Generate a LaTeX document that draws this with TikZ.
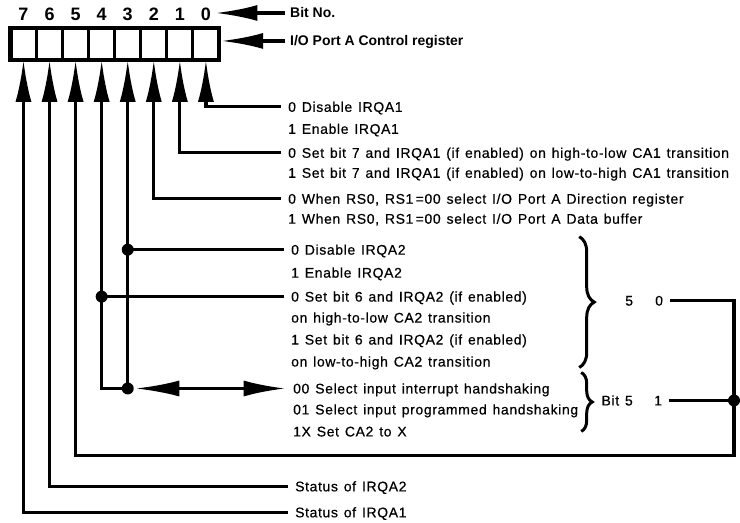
\documentclass[tikz,border=0pt]{standalone}
\usepackage{fontspec}
\setmainfont{Liberation Sans}
\newfontfamily\txtfont{Liberation Sans}[LetterSpace=4.5,WordSpace=1.3,FakeBold=0.5]
\usetikzlibrary{arrows.meta,decorations.pathreplacing,calc}
\begin{document}
\begin{tikzpicture}[x=1pt,y=-1pt,
  line width=3.2pt, line join=miter,
  arr/.style={-{Latex[length=42pt,width=16pt]}},
  darr/.style={{Latex[length=44pt,width=16pt]}-{Latex[length=42pt,width=16pt]}},
  cell/.style={draw, line width=3pt, minimum width=26.1pt, minimum height=32pt, inner sep=0pt, outer sep=0pt, fill=white},
  digit/.style={font=\bfseries\fontsize{18pt}{20pt}\selectfont, inner xsep=3pt, inner ysep=0pt, text height=13pt, text depth=0pt},
  txt/.style={anchor=west, inner xsep=6pt, inner ysep=0pt, text height=10pt, text depth=0pt, font=\txtfont\fontsize{14pt}{16pt}\selectfont},
  hdr/.style={anchor=west, inner xsep=4pt, inner ysep=0pt, text height=10pt, text depth=0pt, font=\bfseries\fontsize{14pt}{16pt}\selectfont},
  sm/.style={inner ysep=0pt, text height=10pt, text depth=0pt, font=\txtfont\fontsize{14pt}{16pt}\selectfont},
  dot/.style={circle, fill=black, inner sep=0pt, minimum size=12pt},
  brace/.style={decorate, line width=3pt}
]
\fill[white] (0,0) rectangle (740,523);
% register
\foreach \b in {0,...,7} {
  \node[cell] (c\b) at ({23.5+26.1*(7-\b)},44) {};
  \node[digit] (n\b) at ({23.5+26.1*(7-\b)},14) {\b};
}
\node[draw, line width=4.5pt, minimum width=208.8pt, minimum height=32pt, inner sep=0pt] (reg) at (114.85,44) {};
% headers
\node[hdr] (bitno) at (285,13) {Bit No.};
\node[hdr] (ctrl) at (285,41) {I/O Port A Control register};
\draw[arr] (bitno.west) -- (bitno.west -| n0.east);
\draw[arr] (ctrl.west) -- (ctrl.west -| reg.east);
% rows
\node[txt] (r0a) at (281,107) {0 Disable IRQA1};
\node[txt] (r0b) at (281,129) {1 Enable IRQA1};
\node[txt] (r1a) at (281,153) {0 Set bit 7 and IRQA1 (if enabled) on high-to-low CA1 transition};
\node[txt] (r1b) at (281,173) {1 Set bit 7 and IRQA1 (if enabled) on low-to-high CA1 transition};
\node[txt] (r2a) at (281,199) {0 When RS0, RS1\thinspace=00 select I/O Port A Direction register};
\node[txt] (r2b) at (281,219) {1 When RS0, RS1\thinspace=00 select I/O Port A Data buffer};
\node[txt] (r3a) at (284,250) {0 Disable IRQA2};
\node[txt] (r3b) at (284,273) {1 Enable IRQA2};
\node[txt] (r4a) at (284,297) {0 Set bit 6 and IRQA2 (if enabled)};
\node[txt] (r4b) at (284,318) {on high-to-low CA2 transition};
\node[txt] (r4c) at (284,340) {1 Set bit 6 and IRQA2 (if enabled)};
\node[txt] (r4d) at (284,362) {on low-to-high CA2 transition};
\node[txt] (r5a) at (286,389) {00 Select input interrupt handshaking};
\node[txt] (r5b) at (286,410) {01 Select input programmed handshaking};
\node[txt] (r5c) at (286,432) {1X Set CA2 to X};
\node[txt] (s6) at (288,487) {Status of IRQA2};
\node[txt] (s7) at (288,513) {Status of IRQA1};
% right side labels
\node[sm] (t5a) at (630,301) {5};
\node[sm, inner xsep=5pt] (t0) at (660,301) {0};
\node[sm] (bit5) at (618,401) {Bit 5};
\node[sm, inner xsep=5pt] (t1) at (659,401) {1};
% braces
\draw[brace, decoration={brace, amplitude=15pt}] (580,237) -- (580,368);
\draw[brace, decoration={brace, amplitude=11pt}] (582,373) -- (582,432);
% bits 0-2
\draw[arr] (r0a.west) -| (c0.south);
\draw[arr] (r1a.west) -| (c1.south);
\draw[arr] (r2a.west) -| (c2.south);
% bits 3-4
\node[dot] (d3a) at (c3.south |- r3a.west) {};
\node[dot] (d4) at (c4.south |- r4a.west) {};
\node[dot] (d3b) at (c3.south |- r5a.west) {};
\draw (r3a.west) -- (d3a.center);
\draw (r4a.west) -- (d4.center);
\draw[arr] (d3b.center) -- (c3.south);
\draw[arr] (d3b.center) -- (d3b.center -| c4.south) -- (c4.south);
\draw[darr] (d3b) -- (r5a.west);
% bit 5
\coordinate (kR1) at (735,301);
\coordinate (kR2) at (735,456);
\draw[arr] (t0.east) -- (kR1) -- (kR2) -- (kR2 -| c5.south) -- (c5.south);
\node[dot] (dR) at (735,401) {};
\draw (t1.east) -- (dR.center);
% bits 6-7
\draw[arr] (s6.west) -| (c6.south);
\draw[arr] (s7.west) -| (c7.south);
\end{tikzpicture}
\end{document}
